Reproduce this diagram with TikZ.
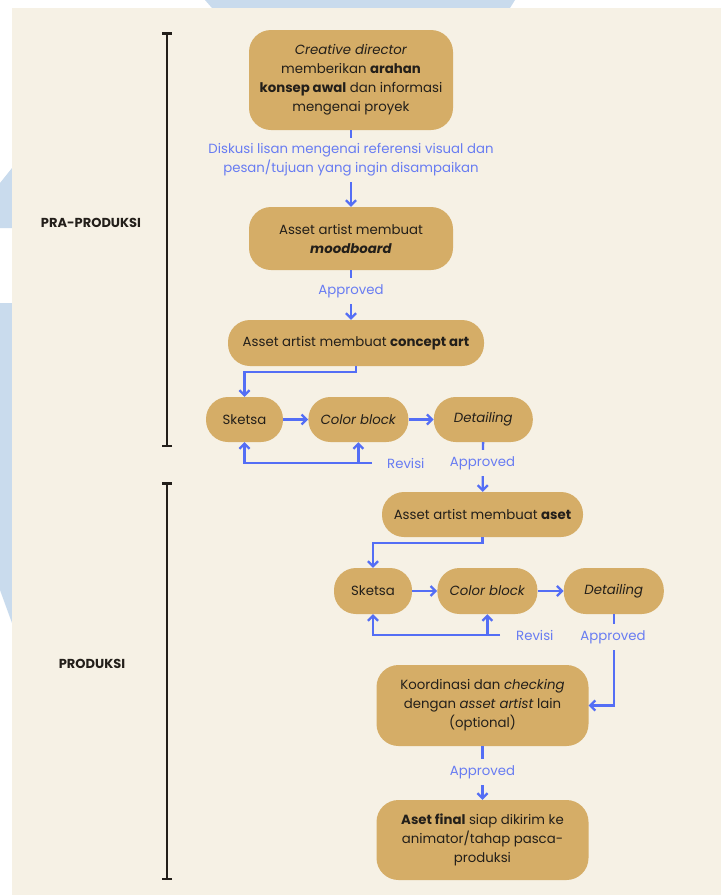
\documentclass[tikz,border=0pt]{standalone}
\usepackage{fontspec}
\setmainfont{Poppins}
\usepackage{tikz}
\usetikzlibrary{arrows.meta, calc, positioning}
\definecolor{Paper}{RGB}{246,241,229}
\definecolor{Gold}{RGB}{213,173,103}
\definecolor{FlowBlue}{RGB}{84,110,245}
\definecolor{NoteBlue}{RGB}{104,124,242}
\definecolor{MarkBlue}{RGB}{201,219,237}
\definecolor{Ink}{RGB}{35,31,26}
\newcommand{\boxfont}{\fontsize{13.3}{19}\selectfont}

\tikzset{
	stage/.style={fill=Gold, rounded corners=22pt, align=center, text=Ink, inner sep=4pt, font=\boxfont},
	note/.style={text=NoteBlue, align=center, inner sep=3pt, font=\boxfont},
	gapnote/.style={note, fill=Paper, inner xsep=4pt, inner ysep=6pt},
	flow/.style={draw=FlowBlue, line width=2.3pt, -{Straight Barb[length=5pt, width=10pt]}},
	phase/.style={draw=Ink, line width=2.5pt, {Bar[width=10pt]}-{Bar[width=10pt]}},
	phaselabel/.style={text=Ink, font=\bfseries\fontsize{13}{15}\selectfont}
}

\begin{document}
\begin{tikzpicture}[x=1pt, y=-1pt]
		% paper and watermark
		\useasboundingbox (0,0) rectangle (721,895);
		\fill[white] (0,0) rectangle (721,895);
		\fill[MarkBlue] (205,0) -- (515,0) -- (510,8) -- (212,8) -- cycle;
		\fill[MarkBlue] (0,183) -- (12,168) -- (12,228) -- (0,228) -- cycle;
		\fill[MarkBlue] (0,303) -- (12,303) -- (12,623) -- (0,590) -- cycle;
		\fill[Paper] (12,8) rectangle (721,895);

		% phases
		\coordinate (pra1) at (167,32);
		\coordinate (pra2) at (167,447);
		\coordinate (pro1) at (167,482);
		\coordinate (pro2) at (167,880);
		\draw[phase] (pra1) -- (pra2);
		\draw[phase] (pro1) -- (pro2);
		\node[phaselabel] (pra) at (91,223) {PRA-PRODUKSI};
		\node[phaselabel] (pro) at (92,664) {PRODUKSI};

		% pra-produksi
		\node[stage, minimum width=204pt, minimum height=100pt] (brief) at (351,80)
			{\textit{Creative director}\\ memberikan \textbf{arahan}\\ \textbf{konsep awal} dan informasi\\ mengenai proyek};
		\node[stage, minimum width=204pt, minimum height=63pt] (mood) at (351,238.5)
			{Asset artist membuat\\ \textbf{\textit{moodboard}}};
		\node[stage, minimum width=256pt, minimum height=46pt] (concept) at (356,343)
			{Asset artist membuat \textbf{concept art}};
		\node[stage, minimum width=77pt, minimum height=45pt] (sk1) at (244.5,419.5) {Sketsa};
		\node[stage, minimum width=100pt, minimum height=45pt, right=25pt of sk1] (cb1) {\textit{Color block}};
		\node[stage, minimum width=99pt, minimum height=45pt, right=25pt of cb1] (det1) {\textit{Detailing}};

		% produksi
		\node[stage, minimum width=201pt, minimum height=45pt] (aset) at (482.5,514.5)
			{Asset artist membuat \textbf{aset}};
		\node[stage, minimum width=78pt, minimum height=46pt] (sk2) at (373,591) {Sketsa};
		\node[stage, minimum width=100pt, minimum height=46pt, right=25pt of sk2] (cb2) {\textit{Color block}};
		\node[stage, minimum width=100pt, minimum height=46pt, right=26pt of cb2] (det2) {\textit{Detailing}};
		\node[stage, minimum width=212pt, minimum height=81pt] (koord) at (482.5,705.5)
			{Koordinasi dan \textit{checking}\\ dengan \textit{asset artist} lain\\ (optional)};
		\node[stage, minimum width=212pt, minimum height=80pt] (final) at (482.5,840)
			{\textbf{Aset final} siap dikirim ke\\ animator/tahap pasca-\\ produksi};

		% connectors
		\coordinate (rv1) at (372,463);
		\coordinate (rv2) at (500,635);
		\draw[flow] (brief) -- (mood);
		\draw[flow] (mood.south) -- (mood.south |- concept.north);
		\draw[flow] (concept.south) -- ++(0,6) -| (sk1.north);
		\draw[flow] (sk1) -- (cb1);
		\draw[flow] (cb1) -- (det1);
		\draw[flow] (rv1) -| (sk1.south);
		\draw[flow] (rv1 -| cb1.south) -- (cb1.south);
		\draw[flow] (det1) -- (aset);
		\draw[flow] (aset.south) -- ++(0,6) -| (sk2.north);
		\draw[flow] (sk2) -- (cb2);
		\draw[flow] (cb2) -- (det2);
		\draw[flow] (rv2) -| (sk2.south);
		\draw[flow] (rv2 -| cb2.south) -- (cb2.south);
		\draw[flow] (det2.south) |- (koord.east);
		\draw[flow] (koord) -- (final);

		% labels on the connectors
		\node[gapnote] (diskusi) at (351,160)
			{Diskusi lisan mengenai referensi visual dan\\ pesan/tujuan yang ingin disampaikan};
		\node[gapnote] (ok1) at (351,291) {Approved};
		\node[gapnote] (ok2) at (482.5,463) {Approved};
		\node[gapnote] (ok3) at (613,637) {Approved};
		\node[gapnote] (ok4) at (482.5,772) {Approved};
		\node[note, right=12pt of rv1] (rev1) {Revisi};
		\node[note, right=13pt of rv2] (rev2) {Revisi};
\end{tikzpicture}
\end{document}
